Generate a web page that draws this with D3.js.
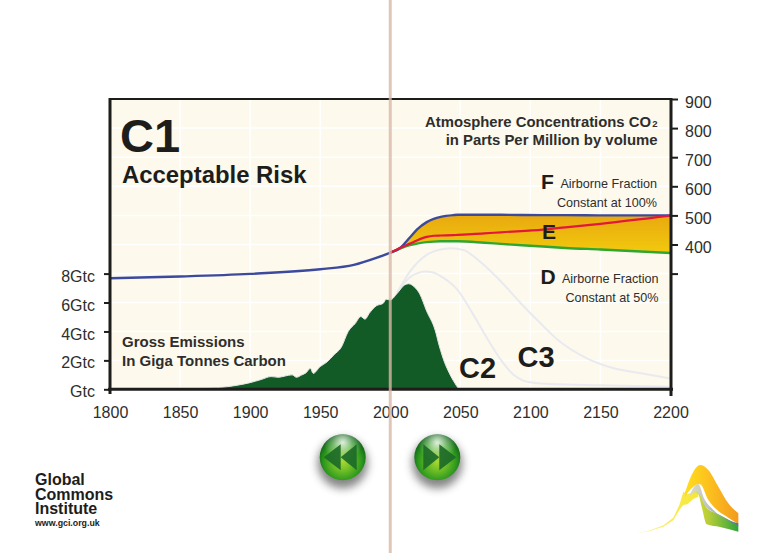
<!DOCTYPE html>
<html><head><meta charset="utf-8">
<script src="https://cdn.jsdelivr.net/npm/d3@7"></script>
<style>html,body{margin:0;padding:0;background:#fff}svg{display:block}text{font-family:"Liberation Sans",Arial,sans-serif}</style>
</head><body><div id="c"></div>
<script>
const xTicks=[1800,1850,1900,1950,2000,2050,2100,2150,2200];
const gtcTicks=[0,2,4,6,8];
const gtcLabels=["Gtc","2Gtc","4Gtc","6Gtc","8Gtc"];
const ppmTicks=[300,400,500,600,700,800,900];
const orgLines=["Global","Commons","Institute"];

const emitYears=[1850,1864,1875,1883,1890,1900,1908,1915,1920,1925,1930,1933,1937,1940,1943,1945,1950,1955,1960,1965,1970,1975,1979,1982,1985,1990,1995,1997,2000,2005,2010,2013,2018,2021,2026,2032,2035,2039,2042,2045,2049];
const emitVals=[0.02,0.06,0.11,0.17,0.27,0.46,0.68,0.88,0.83,0.92,1.0,0.83,1.0,1.15,1.45,1.1,1.57,1.9,2.4,2.9,4.0,4.55,5.03,4.85,5.25,5.77,5.95,6.23,6.18,6.64,7.2,7.3,7.0,6.6,5.4,4.1,3.0,1.8,1.15,0.6,0];

const c2Years=[2005,2014,2020,2025,2030,2038,2048,2058,2069,2079,2088,2095,2105,2114,2150,2200];
const c2Vals=[6.7,7.75,8.05,8.14,8.1,7.7,6.87,5.37,3.55,2.03,1.0,0.6,0.42,0.37,0.28,0.18];
const c3Years=[2005,2014,2026,2035,2043,2052,2064,2079,2093,2107,2121,2140,2159,2178,2200];
const c3Vals=[6.7,8.14,9.3,9.65,9.76,9.64,8.83,7.45,5.97,4.58,3.3,2.16,1.47,1.12,0.75];

const histYears=[1800,1850,1900,1950,1974,1990];
const histVals=[284,290,299,315,330,354];
const bandYears=[2000,2007,2014,2019,2026,2031,2036,2045,2048,2067,2079,2109,2125,2150,2200];
const blueVals=[372,388,424,451,477,488,495,501,502,502,502,501,501,500,500];
const redVals=[372,388,403,414,426,430,431,432,433,438,442,451,459,471,499];
const greenVals=[372,386,398,403,408,410,411,411,411,406,402,393,388,383,371];

// logo outline, in logo units
const logoOrange=[[165,112,125],[190,50,95],[210,30,88],[235,45,135],[265,95,168],[295,145,188],[325,175,207]];
const logoSlate=[[178,125,125],[195,92,112],[205,88,113],[222,130,148],[250,165,172],[325,205,212]];
const logoGreen=[[170,145,145],[195,110,112],[205,112,118],[215,125,155],[230,158,208],[270,180,216],[325,210,230]];
const logoTail=[[15,236,236],[60,226,228],[100,211,215],[130,188,196],[148,150,165],[160,110,150],[172,118,148],[190,110,132],[205,110,125]];

const W=766,H=553;
const svg=d3.select("#c").append("svg").attr("width",W).attr("height",H).attr("viewBox",`0 0 ${W} ${H}`);
const defs=svg.append("defs");
const x=d3.scaleLinear().domain([1800,2200]).range([110,670.5]);
const yG=d3.scaleLinear().domain([0,8]).range([389.3,273.6]);
const yP=d3.scaleLinear().domain([300,900]).range([273.6,99]);
const L=110,R=671,T=99,B=389.3;
const ink="#1d1d1b",txt="#2e2e2c";

svg.append("rect").attr("x",L).attr("y",T).attr("width",R-L).attr("height",B-T).attr("fill","#fdf9ec");
// grid
svg.append("g").selectAll("line").data(xTicks.slice(1,-1)).join("line")
 .attr("x1",d=>x(d)).attr("x2",d=>x(d)).attr("y1",T).attr("y2",B).attr("stroke","#fff").attr("stroke-width",1.5);
svg.append("g").selectAll("line").data(ppmTicks.slice(1,-1).concat(gtcTicks.slice(1))).join("line")
 .attr("x1",L).attr("x2",R).attr("y1",d=>d>=100?yP(d):yG(d)).attr("y2",d=>d>=100?yP(d):yG(d)).attr("stroke","#fff").attr("stroke-width",1.5);

const zip=(a,b)=>a.map((v,i)=>[v,b[i]]);
const lineG=d3.line().x(d=>x(d[0])).y(d=>yG(d[1])).curve(d3.curveMonotoneX);
const lineP=d3.line().x(d=>x(d[0])).y(d=>yP(d[1])).curve(d3.curveMonotoneX);

// faint scenario curves
[[c2Years,c2Vals],[c3Years,c3Vals]].forEach(([a,b])=>{
 svg.append("path").attr("d",lineG(zip(a,b))).attr("fill","none").attr("stroke","#e9eaf0").attr("stroke-width",2);
});
// emissions
const areaE=d3.area().x(d=>x(d[0])).y0(yG(0)).y1(d=>yG(d[1])).curve(d3.curveMonotoneX);
svg.append("path").attr("d",areaE(zip(emitYears,emitVals))).attr("fill","#125a26").attr("stroke","#e6e6e6").attr("stroke-width",1);

// band
const g1=defs.append("linearGradient").attr("id","gold").attr("x1",0).attr("x2",0).attr("y1",0).attr("y2",1);
g1.append("stop").attr("offset",0).attr("stop-color","#e8a90f");
g1.append("stop").attr("offset",1).attr("stop-color","#f2c90d");
const areaB=d3.area().x(d=>x(d[0])).y0(d=>yP(d[2])).y1(d=>yP(d[1])).curve(d3.curveMonotoneX);
svg.append("path").attr("d",areaB(bandYears.map((v,i)=>[v,blueVals[i],greenVals[i]]))).attr("fill","url(#gold)");
svg.append("path").attr("d",lineP(zip(bandYears,greenVals))).attr("fill","none").attr("stroke","#2fa62f").attr("stroke-width",2.4);
svg.append("path").attr("d",lineP(zip(histYears.concat(bandYears),histVals.concat(blueVals)))).attr("fill","none").attr("stroke","#3c4a9e").attr("stroke-width",2.4);
svg.append("path").attr("d",lineP(zip(bandYears,redVals))).attr("fill","none").attr("stroke","#e2173c").attr("stroke-width",2.2);

// axes
function styleAxis(g){g.select(".domain").remove();g.selectAll("line").attr("stroke",ink).attr("stroke-width",2);g.selectAll("text").attr("fill",txt).style("font-size","16px");}
svg.append("g").attr("transform",`translate(0,${B})`)
 .call(d3.axisBottom(x).tickValues(xTicks).tickFormat(d3.format("d")).tickSize(0).tickPadding(17)).call(styleAxis);
svg.append("g").attr("transform",`translate(${L},0)`)
 .call(d3.axisLeft(yG).tickValues(gtcTicks).tickFormat((d,i)=>gtcLabels[i]).tickSize(6).tickPadding(9)).call(styleAxis)
 .selectAll("text").attr("dy","0.85em").attr("y",-6);
svg.append("g").attr("transform",`translate(${R},0)`)
 .call(d3.axisRight(yP).tickValues(ppmTicks).tickFormat(d=>d===300?"":d).tickSize(7).tickPadding(7)).call(styleAxis)
 .selectAll("text").attr("y",3);
svg.append("line").attr("x1",L).attr("x2",R).attr("y1",T).attr("y2",T).attr("stroke",ink).attr("stroke-width",2.2);
svg.append("line").attr("x1",L-2).attr("x2",R+2).attr("y1",B).attr("y2",B).attr("stroke",ink).attr("stroke-width",3);
svg.append("line").attr("x1",L).attr("x2",L).attr("y1",T-1).attr("y2",394).attr("stroke",ink).attr("stroke-width",3);
svg.append("line").attr("x1",R).attr("x2",R).attr("y1",T-1).attr("y2",396).attr("stroke",ink).attr("stroke-width",3);

// texts
function t(s,px,py,fs,bold,anchor,fill){return svg.append("text").attr("x",px).attr("y",py).attr("font-size",fs).attr("font-weight",bold?"bold":"normal").attr("text-anchor",anchor||"start").attr("fill",fill||ink).text(s);}
t("C1",120,151.7,47,true);
t("Acceptable Risk",122,182.7,23.9,true);
t("Atmosphere Concentrations CO",651,126.5,14.85,true,"end",txt);
t("2",657.5,126.5,9.5,true,"end",txt);
t("in Parts Per Million by volume",657.5,145,14.9,true,"end",txt);
t("F",541,189,21,true);
t("Airborne Fraction",657,188,12.6,false,"end",txt);
t("Constant at 100%",657,207,12.6,false,"end",txt);
t("E",542,238.5,21,true);
t("D",540.5,283.5,21,true);
t("Airborne Fraction",658.5,283,12.6,false,"end",txt);
t("Constant at 50%",658.5,302,12.6,false,"end",txt);
t("C2",459,378,29,true);
t("C3",517.5,366.7,29,true);
t("Gross Emissions",122,347.3,15,true,"start",txt);
t("In Giga Tonnes Carbon",122,366,15,true,"start",txt);
const org=svg.append("text").attr("y",485).attr("font-size",16).attr("font-weight","bold").attr("fill",ink);
org.selectAll("tspan").data(orgLines).join("tspan").attr("x",35).attr("dy",(d,i)=>i?14.5:0).text(d=>d);
t("www.gci.org.uk",35,526,8.8,true);

// buttons
const rim=defs.append("radialGradient").attr("id","ball").attr("cx","50%").attr("cy","60%").attr("r","58%");
[[0,"#a8d830"],[0.35,"#6dbd26"],[0.7,"#2f9a1e"],[1,"#0c5f16"]].forEach(s=>rim.append("stop").attr("offset",s[0]).attr("stop-color",s[1]));
const hi=defs.append("radialGradient").attr("id","gloss").attr("cx","50%").attr("cy","18%").attr("r","42%");
[[0,0.85],[0.5,0.35],[1,0]].forEach(s=>hi.append("stop").attr("offset",s[0]).attr("stop-color","#fff").attr("stop-opacity",s[1]));
const sh=defs.append("filter").attr("id","blur").attr("x","-50%").attr("y","-50%").attr("width","200%").attr("height","200%");
sh.append("feGaussianBlur").attr("stdDeviation",4);
[[342.7,-1],[437.3,1]].forEach(([cx,dir])=>{
 const g=svg.append("g").attr("transform",`translate(${cx},457.3)`);
 g.append("circle").attr("cy",6).attr("r",25).attr("fill","#444").attr("opacity",.65).attr("filter","url(#blur)");
 g.append("circle").attr("r",23).attr("fill","url(#ball)");
 g.append("circle").attr("r",23).attr("fill","url(#gloss)");
 [[-14,2],[2,19]].forEach(([a,b])=>{
  const p=d3.path();p.moveTo(dir*a,-13);p.lineTo(dir*b,0);p.lineTo(dir*a,13);p.closePath();
  g.append("path").attr("d",p.toString()).attr("fill","#1c6a28").attr("opacity",.92);
 });
});

// logo
const lx=d3.scaleLinear().domain([0,120]).range([630,670]);
const ly=d3.scaleLinear().domain([0,120]).range([455,495]);
function grad(id,stops){const g=defs.append("linearGradient").attr("id",id).attr("gradientUnits","userSpaceOnUse").attr("x1",lx(15)).attr("x2",lx(325)).attr("y1",0).attr("y2",0);stops.forEach(s=>g.append("stop").attr("offset",s[0]).attr("stop-color",s[1]));}
grad("lo",[[0.5,"#ffdc1e"],[0.72,"#fcc01e"],[1,"#f39a1e"]]);
grad("ls",[[0.55,"#d8d8c0"],[0.7,"#bfc5c4"],[1,"#54728c"]]);
grad("lg",[[0.5,"#f4e62e"],[0.72,"#b4cc38"],[1,"#2ea53a"]]);
grad("lt",[[0,"#fdf6c0"],[0.4,"#f8ea50"],[0.7,"#f6e52c"]]);
const la=d3.area().x(d=>lx(d[0])).y0(d=>ly(d[2])).y1(d=>ly(d[1])).curve(d3.curveLinear);
const lc=d3.area().x(d=>lx(d[0])).y0(d=>ly(d[2])).y1(d=>ly(d[1])).curve(d3.curveMonotoneX);
svg.append("path").attr("d",la(logoTail)).attr("fill","url(#lt)");
svg.append("path").attr("d",lc(logoOrange)).attr("fill","url(#lo)");
svg.append("path").attr("d",lc(logoGreen)).attr("fill","url(#lg)");
svg.append("path").attr("d",lc(logoSlate)).attr("fill","url(#ls)");

// vertical marker
svg.append("line").attr("x1",x(2000)).attr("x2",x(2000)).attr("y1",0).attr("y2",H).attr("stroke","#d9b8a6").attr("stroke-width",3).attr("opacity",.8);
</script></body></html>
